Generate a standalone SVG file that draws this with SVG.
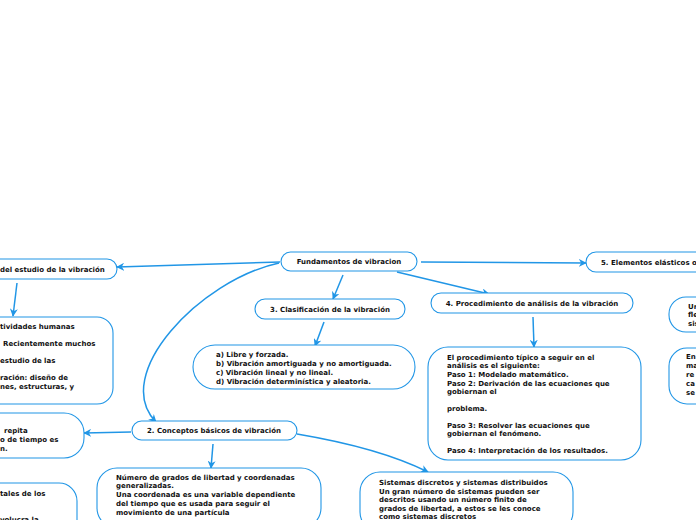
<svg xmlns="http://www.w3.org/2000/svg" width="696" height="520" viewBox="0 0 696 520">
<defs>
<style>
.box{fill:#fff;stroke:#2196e6;stroke-width:1.1}
.ln{fill:none;stroke:#2196e6;stroke-width:1.5}
text{font-family:"DejaVu Sans",Verdana,sans-serif;font-weight:bold;font-size:7px;fill:#111}
.c{text-anchor:middle}
</style>
<marker id="ah" viewBox="0 0 10 10" refX="9" refY="5" markerWidth="8" markerHeight="8" markerUnits="userSpaceOnUse" orient="auto">
<path d="M0,0 L10,5 L0,10 L3,5 Z" fill="#2196e6"/>
</marker>
</defs>
<rect width="696" height="520" fill="#fff"/>
<g id="connectors">
<path class="ln" marker-end="url(#ah)" d="M280,262 L117,267"/>
<path class="ln" marker-end="url(#ah)" d="M17,283 L13,316"/>
<path class="ln" marker-end="url(#ah)" d="M343,275 L333,299"/>
<path class="ln" marker-end="url(#ah)" d="M324,322 L315,346"/>
<path class="ln" marker-end="url(#ah)" d="M397,272 L489,294"/>
<path class="ln" marker-end="url(#ah)" d="M533,317 L534,347"/>
<path class="ln" marker-end="url(#ah)" d="M421,262 L586,263"/>
<path class="ln" marker-end="url(#ah)" d="M279,263 C200,280 110,375 156,422"/>
<path class="ln" marker-end="url(#ah)" d="M131,432 L84,433"/>
<path class="ln" marker-end="url(#ah)" d="M213,444 L211,468"/>
<path class="ln" marker-end="url(#ah)" d="M297,434 Q380,448 428,472"/>
</g>
<g id="n-root">
<rect class="box" x="281" y="252" width="136" height="19" rx="9.5"/>
<text class="c" x="349" y="264">Fundamentos de vibracion</text>
</g>
<g id="n-estudio">
<rect class="box" x="-30" y="259" width="147" height="20" rx="10"/>
<text x="0" y="272">del estudio de la vibración</text>
</g>
<g id="n-estudio-det">
<rect class="box" x="-40" y="317" width="153" height="87" rx="16"/>
<text x="0" y="329">tividades humanas</text>
<text x="3" y="346">Recientemente muchos</text>
<text x="0" y="363">estudio de las</text>
<text x="0" y="380">ración: diseño de</text>
<text x="0" y="389">nes, estructuras, y</text>
</g>
<g id="n-clasif">
<rect class="box" x="255" y="299" width="150" height="20" rx="10"/>
<text class="c" x="330" y="312">3. Clasificación de la vibración</text>
</g>
<g id="n-clasif-det">
<rect class="box" x="193" y="345" width="222" height="44" rx="22"/>
<text x="216" y="357">a) Libre y forzada.</text>
<text x="216" y="366">b) Vibración amortiguada y no amortiguada.</text>
<text x="216" y="375">c) Vibración lineal y no lineal.</text>
<text x="216" y="384">d) Vibración determinística y aleatoria.</text>
</g>
<g id="n-proc">
<rect class="box" x="431" y="293" width="202" height="20" rx="10"/>
<text class="c" x="532" y="306">4. Procedimiento de análisis de la vibración</text>
</g>
<g id="n-proc-det">
<rect class="box" x="428" y="347" width="213" height="113" rx="20"/>
<text x="447" y="360">El procedimiento típico a seguir en el</text>
<text x="447" y="368">análisis es el siguiente:</text>
<text x="447" y="377">Paso 1: Modelado matemático.</text>
<text x="447" y="386">Paso 2: Derivación de las ecuaciones que</text>
<text x="447" y="394">gobiernan el</text>
<text x="447" y="411">problema.</text>
<text x="447" y="428">Paso 3: Resolver las ecuaciones que</text>
<text x="447" y="436">gobiernan el fenómeno.</text>
<text x="447" y="453">Paso 4: Interpretación de los resultados.</text>
</g>
<g id="n-elast">
<rect class="box" x="586" y="252" width="140" height="20" rx="10"/>
<text x="601" y="265">5. Elementos elásticos o</text>
</g>
<g id="n-elast-a">
<rect class="box" x="669" y="297" width="60" height="35" rx="17"/>
<text x="688" y="309">Ur</text>
<text x="688" y="317">fle</text>
<text x="688" y="326">sis</text>
</g>
<g id="n-elast-b">
<rect class="box" x="669" y="348" width="60" height="56" rx="18"/>
<text x="686" y="359">En</text>
<text x="686" y="368">ma</text>
<text x="686" y="377">re</text>
<text x="686" y="386">ca</text>
<text x="686" y="395">se</text>
</g>
<g id="n-conceptos">
<rect class="box" x="132" y="421" width="165" height="19" rx="9.5"/>
<text class="c" x="214" y="433">2. Conceptos básicos de vibración</text>
</g>
<g id="n-conc-a">
<rect class="box" x="-40" y="413" width="124" height="45" rx="20"/>
<text x="4" y="433">repita</text>
<text x="0" y="442">o de tiempo es</text>
<text x="0" y="451">n.</text>
</g>
<g id="n-conc-b">
<rect class="box" x="-40" y="483" width="117" height="60" rx="18"/>
<text x="0" y="496">tales de los</text>
<text x="0" y="522">volucra la</text>
</g>
<g id="n-conc-c">
<rect class="box" x="97" y="468" width="224" height="60" rx="20"/>
<text x="116" y="480">Número de grados de libertad y coordenadas</text>
<text x="116" y="488">generalizadas.</text>
<text x="116" y="497">Una coordenada es una variable dependiente</text>
<text x="116" y="506">del tiempo que es usada para seguir el</text>
<text x="116" y="515">movimiento de una partícula</text>
</g>
<g id="n-conc-d">
<rect class="box" x="360" y="472" width="213" height="60" rx="20"/>
<text x="379" y="485">Sistemas discretos y sistemas distribuidos</text>
<text x="379" y="494">Un gran número de sistemas pueden ser</text>
<text x="379" y="502">descritos usando un número finito de</text>
<text x="379" y="511">grados de libertad, a estos se les conoce</text>
<text x="379" y="519">como sistemas discretos</text>
</g>
</svg>
